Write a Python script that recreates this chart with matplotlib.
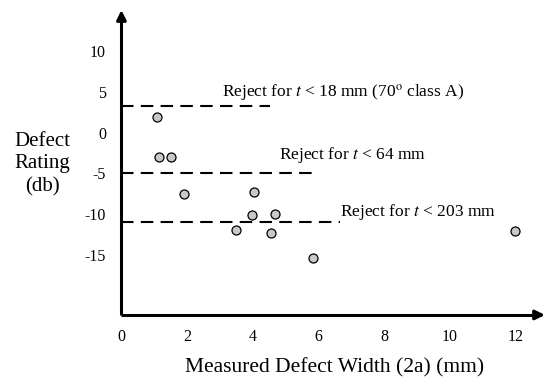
import matplotlib.pyplot as plt

plt.rcParams['font.family'] = ['Liberation Serif', 'DejaVu Serif']
plt.rcParams['mathtext.fontset'] = 'stix'

# measured points
width_mm = [1.09, 1.14, 1.51, 1.92, 4.03, 3.99, 4.69, 3.50, 4.56, 5.83, 12.0]
rating_db = [2.1, -2.7, -2.7, -7.3, -7.0, -9.8, -9.7, -11.7, -12.1, -15.1, -11.8]

# rejection levels: (rating, line end, label)
reject_levels = [3.5, -4.7, -10.7]
reject_ends = [4.53, 5.81, 6.66]
reject_labels = [r'Reject for $t$ < 18 mm (70$^{\rm o}$ class A)',
                 r'Reject for $t$ < 64 mm',
                 r'Reject for $t$ < 203 mm']
label_pos = [(3.06, 5.1), (4.80, -2.5), (6.66, -9.5)]

xticks = [0, 2, 4, 6, 8, 10, 12]
yticks = [10, 5, 0, -5, -10, -15]

fig = plt.figure(figsize=(5.48, 3.79), dpi=100)
ax = fig.add_axes([0, 0, 1, 1])
ax.set_xlim(-3.70, 13.0)
ax.set_ylim(-29.95, 16.5)
ax.axis('off')

x0, y0 = 0, -22.1

# axes with arrow heads
ax.plot([x0, x0], [y0, 14.0], color='black', lw=2.2, solid_capstyle='butt')
ax.plot([x0, 12.6], [y0, y0], color='black', lw=2.2, solid_capstyle='butt')
ax.annotate('', xy=(x0, 15.6), xytext=(x0, 13.5),
            arrowprops=dict(arrowstyle='-|>', color='black', lw=2.2,
                            mutation_scale=14))
ax.annotate('', xy=(12.99, y0), xytext=(12.5, y0),
            arrowprops=dict(arrowstyle='-|>', color='black', lw=2.2,
                            mutation_scale=14))

# dashed rejection lines
for lvl, end, lab, pos in zip(reject_levels, reject_ends, reject_labels, label_pos):
    ax.plot([x0, end], [lvl, lvl], color='black', lw=1.5, dashes=(6, 3.5))
    ax.text(pos[0], pos[1], lab, fontsize=12.5, ha='left', va='center')

ax.scatter(width_mm, rating_db, s=42, facecolor='#c8c8c8', edgecolor='black',
           linewidth=0.9, zorder=3)

for t in xticks:
    ax.text(t, -24.8, str(t), fontsize=11.5, ha='center', va='center')
for t in yticks:
    ax.text(-0.47, t, str(t), fontsize=11.5, ha='right', va='center')

ax.text(6.49, -28.6, 'Measured Defect Width (2a) (mm)', fontsize=15.5,
        ha='center', va='center')
ax.text(-2.42, -3.6, 'Defect\nRating\n(db)', fontsize=15, ha='center',
        va='center', linespacing=1.25)

fig.savefig('out.png', dpi=100)
